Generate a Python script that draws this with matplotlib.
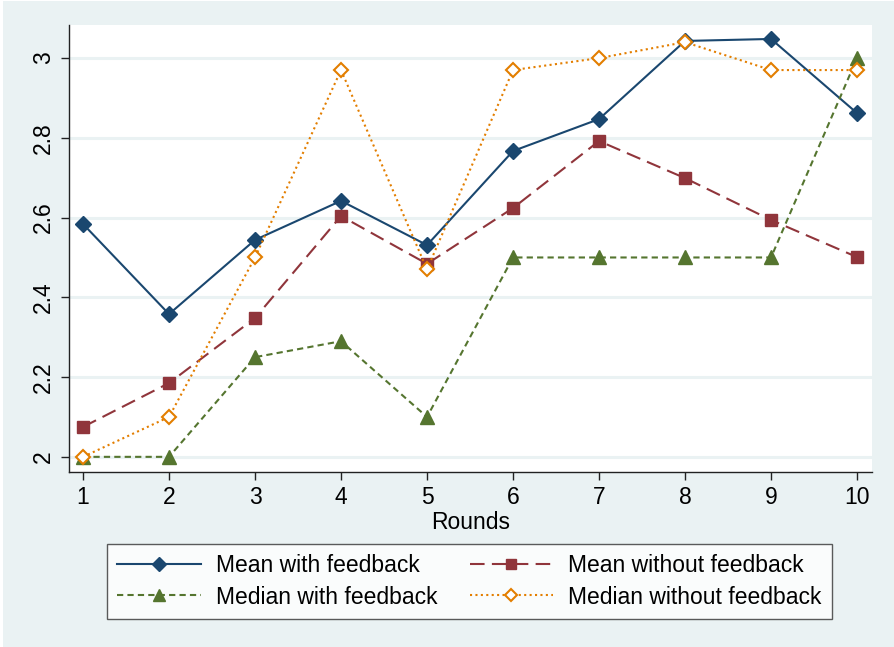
import numpy as np
import matplotlib.pyplot as plt
from matplotlib.patches import Rectangle

plt.rcParams["font.family"] = ["Liberation Sans", "DejaVu Sans"]

rounds = [1, 2, 3, 4, 5, 6, 7, 8, 9, 10]
mean_fb = [2.584, 2.358, 2.544, 2.642, 2.531, 2.767, 2.847, 3.043, 3.048, 2.862]
mean_nofb = [2.075, 2.185, 2.348, 2.604, 2.484, 2.624, 2.792, 2.699, 2.594, 2.501]
median_fb = [2.0, 2.0, 2.25, 2.29, 2.1, 2.5, 2.5, 2.5, 2.5, 3.0]
median_nofb = [2.0, 2.1, 2.5, 2.97, 2.47, 2.97, 3.0, 3.04, 2.97, 2.97]

bg = "#EAF2F3"
navy = "#1A476F"
maroon = "#90353B"
green = "#55752F"
orange = "#E37E00"

fig = plt.figure(figsize=(8.94, 6.47), dpi=100, facecolor="white")
fig.patches.append(Rectangle((3 / 894, 0), 1, 1 - 1 / 647, transform=fig.transFigure,
                             facecolor=bg, edgecolor="none", zorder=-10))
ax = fig.add_axes([69 / 894, 1 - 472 / 647, 803 / 894, 447 / 647])
ax.set_facecolor("white")

lw = 1.5
l1, = ax.plot(rounds, mean_fb, color=navy, lw=lw, marker="D", ms=8.2,
              label="Mean with feedback")
l2, = ax.plot(rounds, mean_nofb, color=maroon, lw=lw, dashes=(7, 3.5), marker="s", ms=8.5,
              label="Mean without feedback")
l3, = ax.plot(rounds, median_fb, color=green, lw=lw, dashes=(3, 2), marker="^", ms=9.5,
              label="Median with feedback")
l4, = ax.plot(rounds, median_nofb, color=orange, lw=lw, dashes=(1, 1.6), marker="D", ms=7.6,
              mfc="white", mec=orange, mew=1.5, label="Median without feedback")

ax.set_xlim(0.837, 10.174)
ax.set_ylim(1.962, 3.083)
ax.set_xticks(rounds)
ax.set_yticks([2, 2.2, 2.4, 2.6, 2.8, 3])
ax.set_yticklabels(["2", "2.2", "2.4", "2.6", "2.8", "3"], rotation=90, va="center")
ax.grid(axis="y", color=bg, lw=2.2, zorder=0)
ax.set_axisbelow(True)
for side in ["top", "right"]:
    ax.spines[side].set_visible(False)
for side in ["left", "bottom"]:
    ax.spines[side].set_color("#222222")
    ax.spines[side].set_linewidth(1.0)
ax.tick_params(axis="both", labelsize=16.5, length=6, width=1, color="#222222", pad=4)
ax.set_xlabel("Rounds", fontsize=16.5, labelpad=1.5)

# row-wise legend order: means on top, medians below
leg = fig.legend([l1, l3, l2, l4], [l.get_label() for l in (l1, l3, l2, l4)],
                 loc="center", bbox_to_anchor=(469.5 / 894, 1 - 581.5 / 647), ncol=2,
                 fontsize=16.5, handlelength=3.65, handletextpad=0.65, numpoints=1,
                 markerscale=0.85, frameon=True, fancybox=False, edgecolor="#333333",
                 columnspacing=1.4, borderpad=0.45, labelspacing=0.35, borderaxespad=0)
leg.get_frame().set_linewidth(1.0)

fig.savefig("out.png", dpi=100, facecolor=fig.get_facecolor())
